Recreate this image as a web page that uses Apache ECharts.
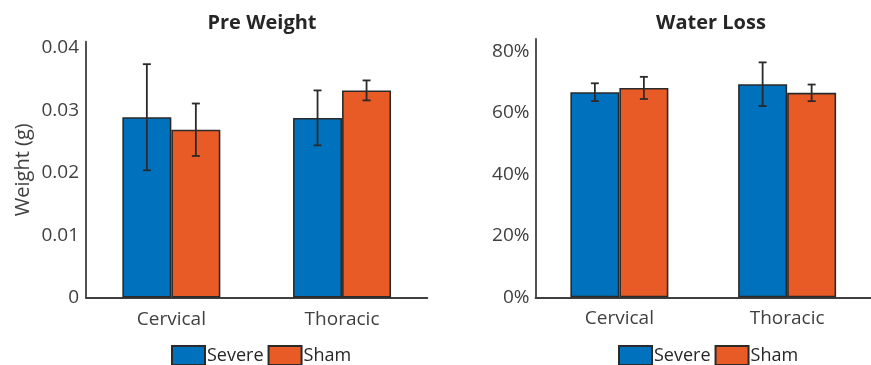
<!DOCTYPE html>
<html>
<head>
<meta charset="utf-8">
<script src="https://cdn.jsdelivr.net/npm/echarts@6/dist/echarts.min.js"></script>
<style>
  html, body { margin: 0; padding: 0; background: #fff; }
  #chart { width: 871px; height: 365px; }
</style>
</head>
<body>
<div id="chart"></div>
<script>
// Categories and legend entries
const categories = ['Cervical', 'Thoracic'];
const groups = ['Severe', 'Sham'];

// Pre Weight (g): means and error half-widths
const preSevere = [0.0289, 0.0288];
const preSevereErr = [0.0085, 0.0044];
const preSham = [0.0269, 0.0332];
const preShamErr = [0.0042, 0.0016];

// Water Loss (%): means and error half-widths
const lossSevere = [66.7, 69.3];
const lossSevereErr = [2.9, 7.1];
const lossSham = [68.1, 66.5];
const lossShamErr = [3.6, 2.7];

const FONT = '"Open Sans", "Liberation Sans", sans-serif';
const BLUE = '#0072BD';
const ORANGE = '#E85A26';
const EDGE = '#2a2a2a';
const AXIS = '#404040';
const BAR_W = 49;

function barSeries(name, data, color, axisIdx) {
  return {
    type: 'bar', name: name, data: data,
    xAxisIndex: axisIdx, yAxisIndex: axisIdx,
    barWidth: BAR_W, barGap: '0%',
    itemStyle: { color: color, borderColor: EDGE, borderWidth: 1.6 },
    emphasis: { disabled: true }, silent: true
  };
}

// Error bars drawn on the same category/value scales, shifted to each bar's centre
function errSeries(name, means, errs, side, axisIdx) {
  const data = means.map((m, i) => [i, m - errs[i], m + errs[i]]);
  return {
    type: 'custom', name: name + ' error',
    xAxisIndex: axisIdx, yAxisIndex: axisIdx, z: 5, silent: true,
    data: data,
    renderItem: function (params, api) {
      const lo = api.coord([api.value(0), api.value(1)]);
      const hi = api.coord([api.value(0), api.value(2)]);
      const x = lo[0] + side * BAR_W / 2;
      const cap = 4;
      const style = { stroke: EDGE, lineWidth: 1.8 };
      return {
        type: 'group',
        children: [
          { type: 'line', shape: { x1: x, y1: lo[1], x2: x, y2: hi[1] }, style: style },
          { type: 'line', shape: { x1: x - cap, y1: hi[1], x2: x + cap, y2: hi[1] }, style: style },
          { type: 'line', shape: { x1: x - cap, y1: lo[1], x2: x + cap, y2: lo[1] }, style: style }
        ]
      };
    }
  };
}

function catAxis(gridIndex) {
  return {
    type: 'category', gridIndex: gridIndex, data: categories,
    axisLine: { lineStyle: { color: AXIS, width: 1.8 } },
    axisTick: { show: false },
    axisLabel: { color: AXIS, fontFamily: FONT, fontSize: 19, margin: 12 }
  };
}

function legendAt(left) {
  return {
    data: groups, left: left, top: 345, padding: 0,
    itemWidth: 33, itemHeight: 19, itemGap: 4,
    icon: 'rect',
    textStyle: { color: '#262626', fontFamily: FONT, fontSize: 18, lineHeight: 19,
      padding: [0, 0, 0, -3] }
  };
}

const chart = echarts.init(document.getElementById('chart'), null, { renderer: 'canvas' });
chart.setOption({
  animation: false,
  backgroundColor: '#ffffff',
  title: [
    { text: 'Pre Weight', left: 257, top: 8, textAlign: 'center',
      textStyle: { fontFamily: FONT, fontSize: 20, fontWeight: 'bold', color: '#262626' } },
    { text: 'Water Loss', left: 706, top: 8, textAlign: 'center',
      textStyle: { fontFamily: FONT, fontSize: 20, fontWeight: 'bold', color: '#262626' } }
  ],
  legend: [legendAt(171), legendAt(618)],
  grid: [
    { left: 86, top: 41.7, width: 341.4, bottom: 67.3 },
    { left: 535.5, top: 39, width: 342.6, bottom: 67.6 }
  ],
  xAxis: [catAxis(0), catAxis(1)],
  yAxis: [
    {
      type: 'value', gridIndex: 0, min: 0, max: 0.041, interval: 0.01,
      name: 'Weight (g)', nameLocation: 'middle', nameGap: 53,
      nameTextStyle: { fontFamily: FONT, fontSize: 20, color: AXIS },
      axisLine: { show: true, lineStyle: { color: AXIS, width: 1.8 } },
      axisTick: { show: false }, splitLine: { show: false },
      axisLabel: { color: AXIS, fontFamily: FONT, fontSize: 19, margin: 7, showMaxLabel: false,
        formatter: v => (v === 0 ? '0' : v.toFixed(2)) }
    },
    {
      type: 'value', gridIndex: 1, min: 0, max: 84, interval: 20,
      axisLine: { show: true, lineStyle: { color: AXIS, width: 1.8 } },
      axisTick: { show: false }, splitLine: { show: false },
      axisLabel: { color: AXIS, fontFamily: FONT, fontSize: 19, margin: 6, showMaxLabel: false,
        formatter: '{value}%' }
    }
  ],
  series: [
    barSeries('Severe', preSevere, BLUE, 0),
    barSeries('Sham', preSham, ORANGE, 0),
    barSeries('Severe', lossSevere, BLUE, 1),
    barSeries('Sham', lossSham, ORANGE, 1),
    errSeries('Severe', preSevere, preSevereErr, -1, 0),
    errSeries('Sham', preSham, preShamErr, 1, 0),
    errSeries('Severe', lossSevere, lossSevereErr, -1, 1),
    errSeries('Sham', lossSham, lossShamErr, 1, 1)
  ]
});
</script>
</body>
</html>
